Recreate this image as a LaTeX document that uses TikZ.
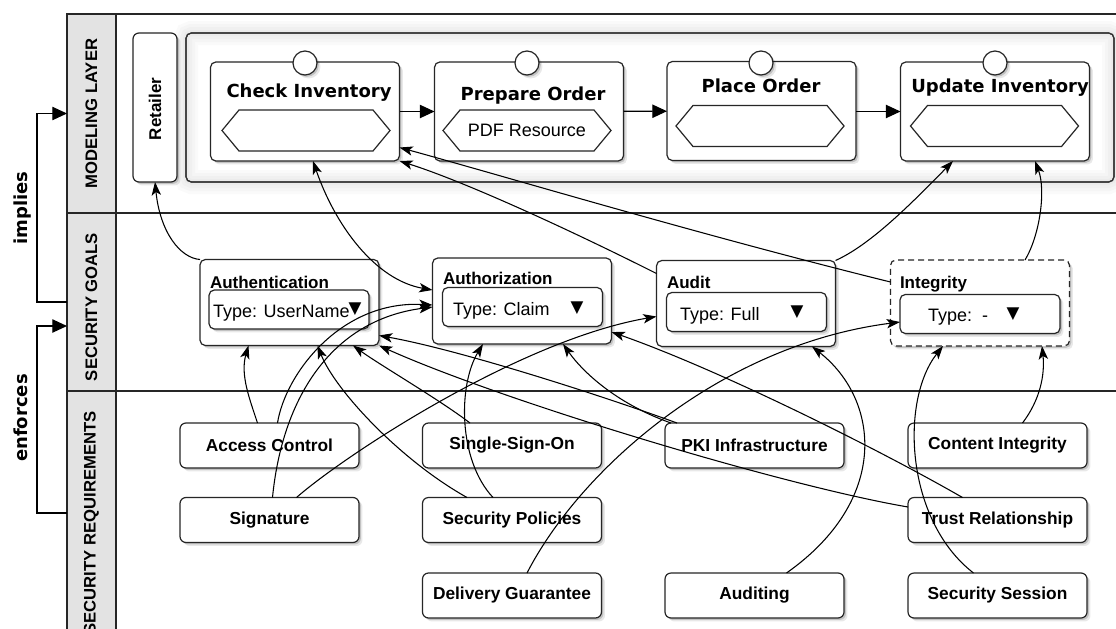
\documentclass[tikz,border=0pt]{standalone}
\usepackage{fontspec}
\setmainfont{Liberation Sans}
\newfontfamily\heavyfont{DejaVu Sans}
\newfontfamily\symfont{DejaVu Sans}
\usetikzlibrary{arrows.meta,shadows,calc}

\tikzset{
  sz/.style 2 args={minimum width=#1*0.75pt, minimum height=#2*0.75pt},
  softshadow/.style={
    drop shadow={shadow xshift=2.6pt, shadow yshift=-2.6pt, opacity=0.09, fill=black},
    drop shadow={shadow xshift=1.4pt, shadow yshift=-1.4pt, opacity=0.16, fill=black}},
  frameln/.style={draw=black!85, line width=1pt},
  hdrbox/.style={frameln, fill=black!11},
  lanetext/.style={rotate=90, font=\bfseries\fontsize{12.5}{14}\selectfont},
  sidetext/.style={rotate=90, anchor=base, font=\heavyfont\bfseries\fontsize{13.5}{15}\selectfont},
  brackettip/.style={draw=black, line width=0.9pt, -{Triangle[length=11pt,width=10pt]}},
  poolbox/.style={draw=black!80, line width=0.9pt, fill=white, rounded corners=4pt},
  rolebox/.style={draw=black!85, line width=0.9pt, fill=white, rounded corners=4.5pt, softshadow},
  roletext/.style={rotate=90, font=\bfseries\fontsize{12.75}{14}\selectfont},
  taskbox/.style={draw=black!85, line width=0.9pt, fill=white, rounded corners=4pt, softshadow, sz={189}{99}},
  marker/.style={circle, draw=black!85, line width=0.9pt, fill=white, minimum size=24*0.75pt, softshadow},
  tasktitle/.style={anchor=base, font=\heavyfont\bfseries\fontsize{13.5}{15}\selectfont},
  hexslot/.style={sz={168}{41}, font=\fontsize{13.5}{15}\selectfont},
  hexline/.style={draw=black!85, line width=0.9pt},
  flow/.style={draw=black, line width=0.9pt, -{Triangle[length=11pt,width=10pt]}},
  goalbox/.style={draw=black!85, line width=0.9pt, fill=white, rounded corners=4pt, softshadow, sz={179}{86}},
  optionalgoal/.style={dash pattern=on 4.5pt off 3pt},
  goaltitle/.style={anchor=base west, font=\bfseries\fontsize{12.75}{14}\selectfont},
  fieldbox/.style={draw=black!85, line width=0.9pt, fill=white, rounded corners=4pt, softshadow, sz={160}{39}},
  fieldtext/.style={anchor=base west, font=\fontsize{13.5}{15}\selectfont},
  dropmark/.style={font=\symfont\fontsize{12.5}{14}\selectfont},
  reqbox/.style={draw=black!85, line width=0.9pt, fill=white, rounded corners=4.5pt, softshadow, sz={179}{45},
    font=\bfseries\fontsize{13}{15}\selectfont},
  link/.style={draw=black, line width=0.8pt, -{Stealth[length=10pt,width=7pt,inset=2.5pt]}},
  bilink/.style={draw=black, line width=0.8pt,
    {Stealth[length=10pt,width=7pt,inset=2.5pt]}-{Stealth[length=10pt,width=7pt,inset=2.5pt]}}
}

% hexagonal data slot drawn around a plain node
\newcommand\hexoutline[1]{%
  \draw[hexline] (#1.west) -- ($(#1.north west)+(17,0)$) -- ($(#1.north east)+(-17,0)$)
    -- (#1.east) -- ($(#1.south east)+(-17,0)$) -- ($(#1.south west)+(17,0)$) -- cycle;}

\begin{document}
\begin{tikzpicture}[x=0.75pt, y=-0.75pt, every node/.style={inner sep=0pt, outer sep=0pt}]
\useasboundingbox (0,0) rectangle (1116,628);
\clip (0,0) rectangle (1116,628);
\fill[white] (0,0) rectangle (1116,628);

% ---- swimlanes ----
\draw[frameln] (116,14) rectangle (1130,213);
\draw[frameln] (116,213) rectangle (1130,391);
\draw[frameln] (116,391) rectangle (1130,655);
\node[hdrbox, sz={49}{199}] (hdrM) at (91.5,113.5) {};
\node[hdrbox, sz={49}{178}] (hdrG) at (91.5,302) {};
\node[hdrbox, sz={49}{264}] (hdrR) at (91.5,523) {};
\node[lanetext] (lblM) at (hdrM) {MODELING LAYER};
\node[lanetext] (lblG) at (91.5,307) {SECURITY GOALS};
\node[lanetext] (lblR) at (hdrR) {SECURITY REQUIREMENTS};

% ---- relations between layers ----
\draw[brackettip] (hdrG.west) -- ++(-30,0) |- (hdrM.west);
\draw[brackettip] ($(hdrR.west)+(0,-10)$) -- ++(-30,0) |- ($(hdrG.west)+(0,24)$);
\node[sidetext] (implies) at (27,208) {implies};
\node[sidetext] (enforces) at (27,418) {enforces};

% ---- process pool ----
\node[poolbox, sz={928}{149}] (pool) at (650,107.5) {};
\foreach \w in {24,18,12,6}
  \draw[black, opacity=0.02, line width=\w*0.75pt, rounded corners=4pt]
    (pool.north west) rectangle (pool.south east);
\draw[draw=black!80, line width=0.9pt, rounded corners=4pt] (pool.north west) rectangle (pool.south east);

\node[rolebox, sz={44}{149}] (ret) at (155,107.5) {};
\node[roletext] (ret-t) at (155,109) {Retailer};

% ---- tasks ----
\node[taskbox] (ci) at (305,111.5) {};
\node[taskbox] (po) at (529,111.5) {};
\node[taskbox] (pl) at (761.5,111) {};
\node[taskbox] (ui) at (995,111.5) {};

\node[marker] (ci-m) at (305,63) {};
\node[marker] (po-m) at (527,63) {};
\node[marker] (pl-m) at (761,63) {};
\node[marker] (ui-m) at (995,63) {};

\node[hexslot] (ci-h) at (306,130.5) {};
\node[hexslot] (po-h) at (527,130.5) {PDF Resource};
\node[hexslot] (pl-h) at (760,126) {};
\node[hexslot] (ui-h) at (994.5,126) {};
\hexoutline{ci-h}
\hexoutline{po-h}
\hexoutline{pl-h}
\hexoutline{ui-h}

\node[tasktitle] (ci-t) at (309,97) {Check Inventory};
\node[tasktitle] (po-t) at (533,100) {Prepare Order};
\node[tasktitle] (pl-t) at (761,92) {Place Order};
\node[tasktitle] (ui-t) at (1000,92) {Update Inventory};

\draw[flow] (ci) -- (po);
\draw[flow] (po) -- (pl);
\draw[flow] (pl.east |- ui.west) -- (ui.west);

% ---- security goals ----
\node[goalbox] (auth) at (289.5,302.5) {};
\node[goalbox] (authz) at (522,301) {};
\node[goalbox] (audit) at (746,303.5) {};
\node[goalbox, optionalgoal] (integ) at (980,303) {};

\node[goaltitle] (auth-t) at (210,288) {Authentication};
\node[goaltitle] (authz-t) at (443,284) {Authorization};
\node[goaltitle] (audit-t) at (667,288) {Audit};
\node[goaltitle] (integ-t) at (900,288) {Integrity};

\node[fieldbox] (authin) at (289,309.5) {};
\node[fieldbox] (authzin) at (522.5,307) {};
\node[fieldbox] (auditin) at (746.5,312) {};
\node[fieldbox] (integin) at (980,314) {};

\node[fieldtext] (authin-t) at (213,317) {Type: UserName};
\node[fieldtext] (authzin-t) at (453,315) {Type: Claim};
\node[fieldtext] (auditin-t) at (680,320) {Type: Full};
\node[fieldtext] (integin-t) at (928,321) {Type:\ \ -};

\node[dropmark] (authin-d) at (355,309.5) {▼};
\node[dropmark] (authzin-d) at (577,308) {▼};
\node[dropmark] (auditin-d) at (797,312) {▼};
\node[dropmark] (integin-d) at (1013,314) {▼};

% ---- security requirements ----
\node[reqbox] (ac) at (269.5,445.5) {Access Control};
\node[reqbox] (sso) at (512,445.5) {Single-Sign-On};
\node[reqbox] (pki) at (754.5,445.5) {PKI Infrastructure};
\node[reqbox] (cint) at (997.5,445.5) {Content Integrity};
\node[reqbox] (sig) at (269.5,520) {Signature};
\node[reqbox] (sp) at (512,520) {Security Policies};
\node[reqbox] (tr) at (997.5,520) {Trust Relationship};
\node[reqbox] (dg) at (512,595.5) {Delivery Guarantee};
\node[reqbox] (aud) at (754.5,595.5) {Auditing};
\node[reqbox] (ss) at (997.5,595.5) {Security Session};

% ---- goal -> model links ----
\draw[link] (auth.north west) .. controls (180,258) and (160,232) .. (ret.south);
\draw[bilink] ($(ci.south)+(8,0)$) .. controls (335,225) and (375,280) .. ($(authz.west)+(0,-11)$);
\draw[link] ($(audit.west)+(0,-30)$) .. controls (560,225) and (460,180) .. (ci.south east);
\draw[link] ($(integ.west)+(0,-21)$) .. controls (700,235) and (500,175) .. ($(ci.east)+(0,36)$);
\draw[link] (audit.north east) .. controls (870,245) and (910,205) .. ($(ui.south)+(-42,0)$);
\draw[link] ($(integ.north)+(45,0)$) .. controls (1040,235) and (1046,190) .. ($(ui.south)+(40,0)$);

% ---- requirement -> goal links ----
\draw[link] ($(ac.north)+(-12,0)$) .. controls (250,400) and (240,375) .. ($(auth.south)+(-41,0)$);
\draw[link] ($(ac.north)+(8,0)$) .. controls (285,375) and (340,300) .. ($(authz.west)+(0,4)$);
\draw[link] ($(sig.north)+(3,0)$) .. controls (282,400) and (330,320) .. ($(authz.west)+(0,6)$);
\draw[link] ($(sig.north)+(27,0)$) .. controls (345,455) and (520,340) .. ($(audit.west)+(0,13)$);
\draw[link] ($(sp.north)+(-45,0)$) .. controls (400,460) and (335,390) .. ($(auth.south)+(28,0)$);
\draw[link] ($(sso.north)+(-42,0)$) .. controls (440,400) and (380,365) .. ($(auth.south east)+(-26,0)$);
\draw[link] ($(pki.north west)+(12,0)$) .. controls (600,395) and (460,350) .. ($(auth.east)+(0,33)$);
\draw[link] ($(tr.west)+(0,-13)$) .. controls (780,485) and (500,400) .. (auth.south east);
\draw[link] ($(pki.north west)+(6,0)$) .. controls (620,405) and (585,375) .. ($(authz.south)+(41,0)$);
\draw[link] ($(tr.north)+(-35,0)$) .. controls (880,450) and (720,370) .. ($(authz.east)+(0,31)$);
\draw[link] ($(sp.north)+(-19,0)$) .. controls (458,460) and (458,385) .. ($(authz.south)+(-39,0)$);
\draw[link] ($(dg.north)+(15,0)$) .. controls (580,470) and (720,345) .. ($(integin.west)+(0,8)$);
\draw[link] ($(aud.north)+(32,0)$) .. controls (890,500) and (880,400) .. ($(audit.south)+(66,0)$);
\draw[link] ($(ss.north)+(-24,0)$) .. controls (905,520) and (900,400) .. ($(integ.south)+(-37,0)$);
\draw[link] ($(cint.north)+(25,0)$) .. controls (1040,400) and (1045,375) .. ($(integ.south)+(62,0)$);
\end{tikzpicture}
\end{document}
